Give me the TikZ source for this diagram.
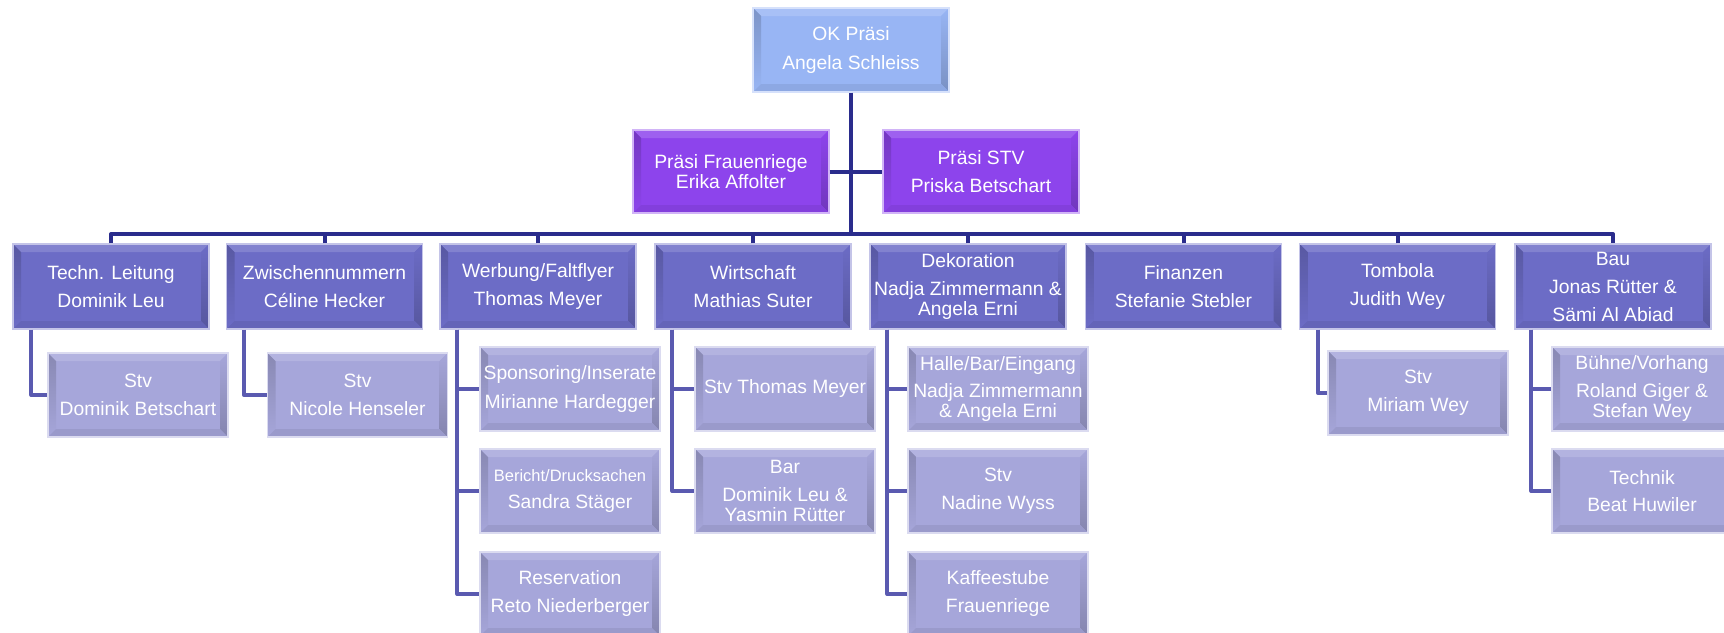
\documentclass[tikz,border=0pt]{standalone}
\usepackage{fontspec}
\setmainfont{Liberation Sans}
\usetikzlibrary{calc}
\definecolor{topc}{RGB}{152,181,244}
\definecolor{presc}{RGB}{141,68,236}
\definecolor{mainc}{RGB}{108,108,198}
\definecolor{subc}{RGB}{166,166,218}
\definecolor{busc}{RGB}{42,44,140}
\definecolor{subl}{RGB}{90,90,176}
\newcommand\orgfont{\fontsize{19.3pt}{20.5pt}\selectfont}
\newcommand\smallorg{\fontsize{16.5pt}{18pt}\selectfont}
\tikzset{
  bev/.style={rectangle, inner sep=0pt, fill=#1, draw=#1!40!white, line width=1.2pt,
    text=white, align=center, font=\orgfont,
    path picture={
      \fill[#1!85!white] (path picture bounding box.north west) -- (path picture bounding box.north east)
        -- ([xshift=-8pt,yshift=-8pt]path picture bounding box.north east)
        -- ([xshift=8pt,yshift=-8pt]path picture bounding box.north west) -- cycle;
      \shade[top color=#1!82!black, bottom color=#1] (path picture bounding box.north west)
        -- ([xshift=8pt,yshift=-8pt]path picture bounding box.north west)
        -- ([xshift=8pt,yshift=8pt]path picture bounding box.south west)
        -- (path picture bounding box.south west) -- cycle;
      \shade[top color=#1, bottom color=#1!80!black] (path picture bounding box.north east)
        -- ([xshift=-8pt,yshift=-8pt]path picture bounding box.north east)
        -- ([xshift=-8pt,yshift=8pt]path picture bounding box.south east)
        -- (path picture bounding box.south east) -- cycle;
      \fill[#1!93!black] (path picture bounding box.south west)
        -- ([xshift=8pt,yshift=8pt]path picture bounding box.south west)
        -- ([xshift=-8pt,yshift=8pt]path picture bounding box.south east)
        -- (path picture bounding box.south east) -- cycle;
    }},
  topbox/.style={bev=topc, minimum width=196pt, minimum height=84pt},
  presbox/.style={bev=presc, minimum width=196pt, minimum height=83pt},
  mainbox/.style={bev=mainc, minimum width=196pt, minimum height=85pt},
  subbox/.style={bev=subc, minimum width=180pt, minimum height=84pt},
  bus/.style={draw=busc, line width=4pt, line join=round},
  subline/.style={draw=subl, line width=4pt, line join=round},
}
\begin{document}
\begin{tikzpicture}[x=1pt,y=-1pt]
\useasboundingbox[fill=white] (0,0) rectangle (1724,632);
% top
\node[topbox] (top) at (851,50) {OK Präsi\\[8pt]Angela Schleiss};
\node[presbox] (pf) at (731,171.5) {Präsi Frauenriege\\Erika Affolter};
\node[presbox] (ps) at (981,171.5) {Präsi STV\\[8pt]Priska Betschart};
% row 1
\node[mainbox] (r1) at (111,286.5) {Techn. Leitung\\[7.5pt]Dominik Leu};
\node[mainbox] (r2) at (324.5,286.5) {Zwischennummern\\[7.5pt]Céline Hecker};
\node[mainbox] (r3) at (538,286.5) {Werbung/Faltflyer\\[7.5pt]Thomas Meyer};
\node[mainbox] (r4) at (753,286.5) {Wirtschaft\\[7.5pt]Mathias Suter};
\node[mainbox] (r5) at (968,286.5) {Dekoration\\[7.5pt]Nadja Zimmermann \&\\Angela Erni};
\node[mainbox] (r6) at (1183.5,286.5) {Finanzen\\[7.5pt]Stefanie Stebler};
\node[mainbox] (r7) at (1397.5,286.5) {Tombola\\[7.5pt]Judith Wey};
\node[mainbox] (r8) at (1613,286.5) {Bau\\[7.5pt]Jonas Rütter \&\\[7.5pt]Sämi Al Abiad};
% sub boxes
\node[subbox] (s1) at (138,395) {Stv\\[8pt]Dominik Betschart};
\node[subbox] (s2) at (357.5,395) {Stv\\[8pt]Nicole Henseler};
\node[subbox] (s3a) at (570,389) {Sponsoring/Inserate\\[8pt]Mirianne Hardegger};
\node[subbox] (s3b) at (570,491) {{\smallorg Bericht/Drucksachen}\\[7pt]Sandra Stäger};
\node[subbox] (s3c) at (570,594) {Reservation\\[7.5pt]Reto Niederberger};
\node[subbox] (s4a) at (785,389) {Stv Thomas Meyer};
\node[subbox] (s4b) at (785,491) {Bar\\[7.5pt]Dominik Leu \&\\Yasmin Rütter};
\node[subbox] (s5a) at (998,389) {Halle/Bar/Eingang\\[6.5pt]Nadja Zimmermann\\\& Angela Erni};
\node[subbox] (s5b) at (998,491) {Stv\\[7.5pt]Nadine Wyss};
\node[subbox] (s5c) at (998,594) {Kaffeestube\\[7.5pt]Frauenriege};
\node[subbox] (s7) at (1418,393) {Stv\\[7.5pt]Miriam Wey};
\node[subbox] (s8a) at (1642,389) {Bühne/Vorhang\\[7pt]Roland Giger \&\\Stefan Wey};
\node[subbox] (s8b) at (1642,491) {Technik\\[7pt]Beat Huwiler};
% connectors
\coordinate (busy) at (851,234);
\draw[bus] (top.south) -- (top.south |- busy);
\draw[bus] (pf.east) -- (ps.west);
\draw[bus] (r1.north) -- (r1.north |- busy) -- (r8.north |- busy) -- (r8.north);
\foreach \n in {r2,r3,r4,r5,r6,r7}{
  \draw[bus] (\n.north) -- (\n.north |- busy);
}
\draw[subline] ([xshift=19pt]r1.south west) |- (s1.west);
\draw[subline] ([xshift=18pt]r2.south west) |- (s2.west);
\foreach \s in {s3a,s3b,s3c}{\draw[subline] ([xshift=18pt]r3.south west) |- (\s.west);}
\foreach \s in {s4a,s4b}{\draw[subline] ([xshift=18pt]r4.south west) |- (\s.west);}
\foreach \s in {s5a,s5b,s5c}{\draw[subline] ([xshift=18pt]r5.south west) |- (\s.west);}
\draw[subline] ([xshift=19pt]r7.south west) |- (s7.west);
\foreach \s in {s8a,s8b}{\draw[subline] ([xshift=17pt]r8.south west) |- (\s.west);}
\end{tikzpicture}
\end{document}
